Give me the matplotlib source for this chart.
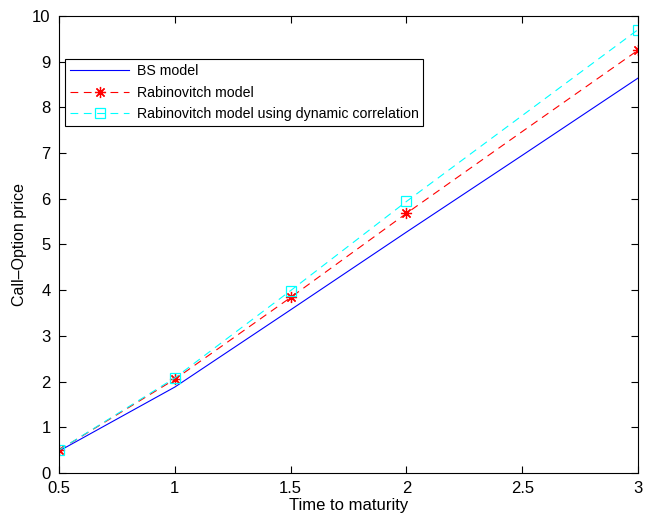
import matplotlib
matplotlib.use("Agg")
import matplotlib.pyplot as plt

plt.rcParams['font.family'] = ['Liberation Sans', 'DejaVu Sans']

t = [0.5, 1.0, 1.5, 2.0, 2.5, 3.0]
bs = [0.48, 1.88, 3.57, 5.27, 6.95, 8.64]
rab = [0.50, 2.05, 3.84, 5.68, 7.47, 9.25]
rab_dyn = [0.50, 2.08, 3.99, 5.94, 7.82, 9.70]
marker_idx = [0, 1, 2, 3, 5]

fig = plt.figure(figsize=(6.45, 5.2), dpi=100)
ax = fig.add_axes([0.0915, 0.0904, 0.8977, 0.879])

ax.plot(t, bs, color='blue', lw=0.8, label='BS model')
ax.plot(t, rab, color='red', lw=0.8, ls=(0, (7, 5)), marker=(8, 2, 0), markevery=marker_idx,
        ms=8, mew=0.9, mec='red', label='Rabinovitch model')
ax.plot(t, rab_dyn, color='cyan', lw=0.8, ls=(0, (7, 5)), marker='s', markevery=marker_idx,
        ms=6.5, mew=0.9, mfc='none', label='Rabinovitch model using dynamic correlation')

ax.set_xlim(0.5, 3)
ax.set_ylim(0, 10)
ax.set_xticks([0.5, 1, 1.5, 2, 2.5, 3])
ax.set_xticklabels(['0.5', '1', '1.5', '2', '2.5', '3'])
ax.set_yticks(range(0, 11))
ax.tick_params(direction='in', top=True, right=True, labelsize=12, length=5)
ax.tick_params(axis='x', pad=6)
ax.tick_params(axis='y', pad=6)
for s in ax.spines.values():
    s.set_linewidth(0.8)
ax.set_xlabel('Time to maturity', fontsize=12, labelpad=1)
ax.set_ylabel('Call\u2013Option price', fontsize=11.5, labelpad=4)

leg = ax.legend(loc='upper left', bbox_to_anchor=(0.0104, 0.906), fontsize=10.2,
                frameon=True, fancybox=False, edgecolor='black', framealpha=1,
                handlelength=4.2, handletextpad=0.5, borderpad=0.35, labelspacing=0.55,
                borderaxespad=0)
leg.get_frame().set_linewidth(0.8)

fig.savefig('out.png', dpi=100)
